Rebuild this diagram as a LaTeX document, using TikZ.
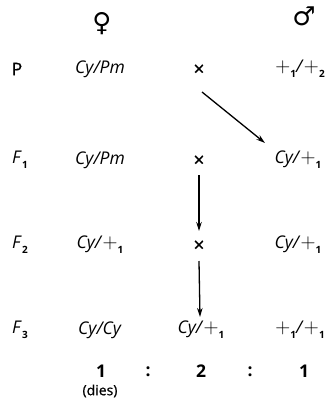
\documentclass[tikz,border=0pt]{standalone}
\usepackage{fontspec}
\setmainfont{Open Sans}
\newfontfamily\medfont{Open Sans}[AutoFakeBold=0.7]
\newfontfamily\symfont{DejaVu Sans}
\usetikzlibrary{arrows.meta}
\newcommand{\pls}{{\fontsize{21}{21}\selectfont$+$}}
\newcommand{\sbs}[1]{\kern0.3pt\raisebox{-0.5ex}{\fontsize{10}{10}\selectfont\upshape\bfseries #1}}
\newcommand{\pl}[1]{\pls\sbs{#1}}
\newcommand{\gen}[1]{\textit{#1}}
\begin{document}
\begin{tikzpicture}[x=1pt,y=-1pt,
  txt/.style={inner sep=0pt,font=\fontsize{17.5}{20}\selectfont},
  lab/.style={inner sep=0pt,font=\fontsize{17.5}{20}\selectfont\medfont\bfseries},
  num/.style={inner sep=0pt,font=\fontsize{17.5}{20}\selectfont\bfseries},
  crs/.style={inner sep=0pt,font=\fontsize{19}{20}\selectfont\medfont\bfseries},
  sym/.style={inner sep=0pt,font=\fontsize{26}{30}\selectfont\symfont},
  arr/.style={line width=1.3pt,-{Stealth[length=9pt,width=5.5pt]}}]
\useasboundingbox (0,0) rectangle (332,413);
% sex symbols
\node[sym] (fem) at (102,24) {♀};
\node[sym] (mal) at (304,16) {♂};
% row P
\node[lab] (lP) at (17,69) {P};
\node[txt] (aP) at (100,69) {\gen{Cy/Pm}};
\node[crs] (xP) at (199,70) {×};
\node[txt] (bP) at (300,69) {\pl{1}\gen{/}\pl{2}};
% row F1
\node[txt] (lF1) at (20,160) {\gen{F}\sbs{1}};
\node[txt] (aF1) at (100,160) {\gen{Cy/Pm}};
\node[crs] (xF1) at (199,161) {×};
\node[txt] (bF1) at (298,160) {\gen{Cy/}\pl{1}};
% row F2
\node[txt] (lF2) at (20,245) {\gen{F}\sbs{2}};
\node[txt] (aF2) at (100,245) {\gen{Cy/}\pl{1}};
\node[crs] (xF2) at (199,246) {×};
\node[txt] (bF2) at (298,245) {\gen{Cy/}\pl{1}};
% row F3
\node[txt] (lF3) at (20,330) {\gen{F}\sbs{3}};
\node[txt] (aF3) at (100,330) {\gen{Cy/Cy}};
\node[txt] (mF3) at (201,330) {\gen{Cy/}\pl{1}};
\node[txt] (bF3) at (300,330) {\pl{1}\gen{/}\pl{1}};
% ratio
\node[num] (r1) at (101,371) {1};
\node[num] (c1) at (148,372) {:};
\node[num] (r2) at (201,371) {2};
\node[num] (c2) at (250,372) {:};
\node[num] (r3) at (304,371) {1};
\node[inner sep=0pt,font=\fontsize{14}{16}\selectfont\medfont\bfseries] (dies) at (100,391) {(dies)};
% arrows
\draw[arr] ([shift={(3,22)}]xP.center) -- ([shift={(-33,-17)}]bF1.center);
\draw[arr] ([shift={(0,14)}]xF1.center) -- ([shift={(0,-15)}]xF2.center);
\draw[arr] ([shift={(0,15)}]xF2.center) -- ([shift={(-1,-13)}]mF3.center);
\end{tikzpicture}
\end{document}
